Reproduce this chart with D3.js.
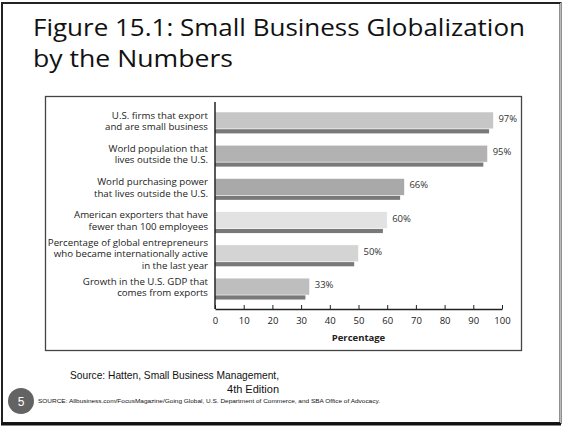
<!DOCTYPE html>
<html>
<head>
<meta charset="utf-8">
<script src="https://cdn.jsdelivr.net/npm/d3@7"></script>
<style>
  body { margin: 0; background: #fff; }
  svg { display: block; }
</style>
</head>
<body>
<div id="chart"></div>
<script>
const categories = [
  ["U.S. firms that export", "and are small business"],
  ["World population that", "lives outside the U.S."],
  ["World purchasing power", "that lives outside the U.S."],
  ["American exporters that have", "fewer than 100 employees"],
  ["Percentage of global entrepreneurs", "who became internationally active", "in the last year"],
  ["Growth in the U.S. GDP that", "comes from exports"]
];
const values = [97, 95, 66, 60, 50, 33];
const barColors = ["#c6c6c6", "#b2b2b2", "#a9a9a9", "#e2e2e2", "#d4d4d4", "#bebebe"];
const ticks = [0, 10, 20, 30, 40, 50, 60, 70, 80, 90, 100];

const W = 563, H = 427;
const svg = d3.select('#chart').append('svg').attr('width', W).attr('height', H);

// slide frame
svg.append('rect').attr('x', 2).attr('y', 3).attr('width', 558.5).attr('height', 420)
  .attr('fill', 'none').attr('stroke', '#222').attr('stroke-width', 2);
svg.append('line').attr('x1', 1).attr('x2', 561).attr('y1', 424).attr('y2', 424)
  .attr('stroke', '#111').attr('stroke-width', 3);
svg.append('line').attr('x1', 560.5).attr('x2', 560.5).attr('y1', 3).attr('y2', 423)
  .attr('stroke', '#bbb').attr('stroke-width', 1);

// title
svg.append('text').attr('x', 33).attr('y', 36)
  .attr('font-family', 'Open Sans, sans-serif').attr('font-size', 23).attr('fill', '#111')
  .attr('textLength', 492).attr('lengthAdjust', 'spacingAndGlyphs')
  .text('Figure 15.1: Small Business Globalization');
svg.append('text').attr('x', 33).attr('y', 67)
  .attr('font-family', 'Open Sans, sans-serif').attr('font-size', 23).attr('fill', '#111')
  .attr('textLength', 200).attr('lengthAdjust', 'spacingAndGlyphs')
  .text('by the Numbers');

// chart box
svg.append('rect').attr('x', 45.5).attr('y', 96.5).attr('width', 476).attr('height', 254)
  .attr('fill', '#fff').attr('stroke', '#444').attr('stroke-width', 1.3);

const x = d3.scaleLinear().domain([0, 100]).range([215, 502]);
const y = d3.scaleBand().domain(d3.range(values.length)).range([102, 309]).paddingInner(0.37).paddingOuter(0.3);

const rows = svg.append('g').selectAll('g').data(values).join('g');

rows.append('rect')
  .attr('x', x(0))
  .attr('y', (d, i) => y(i) + y.bandwidth() - 4)
  .attr('width', d => x(d - 1.5) - x(0))
  .attr('height', 4.5)
  .attr('fill', '#797979');

rows.append('rect')
  .attr('x', x(0))
  .attr('y', (d, i) => y(i))
  .attr('width', d => x(d) - x(0))
  .attr('height', y.bandwidth() - 4)
  .attr('fill', (d, i) => barColors[i])
  .attr('stroke', '#fff').attr('stroke-width', 0.6);

rows.append('text')
  .attr('x', d => x(d) + 5)
  .attr('y', (d, i) => y(i) + 10)
  .attr('font-family', 'Open Sans, sans-serif').attr('font-size', 9.5).attr('fill', '#333')
  .text(d => d + '%');

// category labels
rows.append('text')
  .attr('text-anchor', 'end')
  .attr('font-family', 'Open Sans, sans-serif').attr('font-size', 9.7).attr('fill', '#222')
  .each(function (d, i) {
    const lines = categories[i];
    const mid = y(i) + y.bandwidth() / 2;
    const start = mid - (lines.length - 1) * 11.5 / 2 + 2;
    d3.select(this).selectAll('tspan').data(lines).join('tspan')
      .attr('x', 208).attr('y', (l, j) => start + j * 11.5).text(l => l);
  });

// axes
const axis = d3.axisBottom(x).tickValues(ticks).tickSizeInner(-4).tickSizeOuter(0).tickPadding(8);
const ax = svg.append('g').attr('transform', 'translate(0,309)').call(axis);
ax.select('.domain').attr('stroke', '#222').attr('stroke-width', 1.3);
ax.selectAll('.tick line').attr('stroke', '#222');
ax.selectAll('.tick text').attr('font-family', 'Open Sans, sans-serif').attr('font-size', 9.5).attr('fill', '#222');

svg.append('line').attr('x1', x(0)).attr('x2', x(0)).attr('y1', 102).attr('y2', 309)
  .attr('stroke', '#222').attr('stroke-width', 1.5);

svg.append('text').attr('x', x(50)).attr('y', 341).attr('text-anchor', 'middle')
  .attr('font-family', 'Open Sans, sans-serif').attr('font-weight', 'bold').attr('font-size', 9.5)
  .attr('fill', '#222').text('Percentage');

// source lines
svg.append('text').attr('x', 70).attr('y', 379)
  .attr('font-family', 'Liberation Sans, Arial, sans-serif').attr('font-size', 11).attr('fill', '#111')
  .attr('textLength', 209).attr('lengthAdjust', 'spacingAndGlyphs')
  .text('Source:  Hatten,  Small  Business  Management,');
svg.append('text').attr('x', 279).attr('y', 393).attr('text-anchor', 'end')
  .attr('font-family', 'Liberation Sans, Arial, sans-serif').attr('font-size', 11).attr('fill', '#111')
  .text('4th Edition');
svg.append('text').attr('x', 38).attr('y', 403)
  .attr('font-family', 'Liberation Sans, Arial, sans-serif').attr('font-size', 6.2).attr('fill', '#111')
  .attr('textLength', 342).attr('lengthAdjust', 'spacingAndGlyphs')
  .text('SOURCE:  Allbusiness.com/FocusMagazine/Going  Global, U.S. Department  of Commerce,  and SBA Office of Advocacy.');

// slide number
svg.append('circle').attr('cx', 21).attr('cy', 401).attr('r', 13).attr('fill', '#636363');
svg.append('text').attr('x', 21).attr('y', 405.5).attr('text-anchor', 'middle')
  .attr('font-family', 'Liberation Sans, Arial, sans-serif').attr('font-size', 12).attr('fill', '#fff')
  .text('5');
</script>
</body>
</html>
